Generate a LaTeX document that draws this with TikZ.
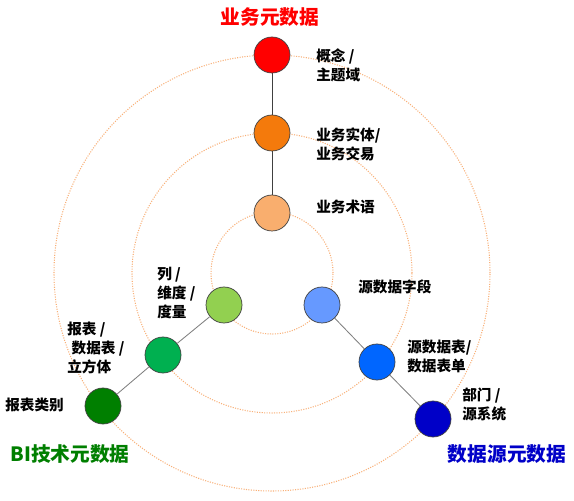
\documentclass[tikz,border=0pt]{standalone}
\usepackage{fontspec}
\setmainfont{Noto Sans CJK SC}
\definecolor{ringline}{HTML}{F9B078}
\definecolor{linkdark}{HTML}{404040}
\definecolor{linkgray}{HTML}{808080}
\definecolor{cRed}{HTML}{FF0000}
\definecolor{cOrange}{HTML}{F47A0C}
\definecolor{cPeach}{HTML}{F9AE6E}
\definecolor{cLime}{HTML}{92D050}
\definecolor{cGreen}{HTML}{00B050}
\definecolor{cForest}{HTML}{007F00}
\definecolor{cSky}{HTML}{6699FF}
\definecolor{cBlue}{HTML}{0066FF}
\definecolor{cNavy}{HTML}{0000C8}
\begin{document}
\begin{tikzpicture}[
		dot/.style={circle, draw=linkdark, line width=0.5pt, minimum size=0.9cm, inner sep=0pt},
		ring/.style={ringline, densely dotted, line width=0.75pt},
		lbl/.style={anchor=west, align=left, inner sep=0pt, font=\bfseries\fontsize{10.4pt}{13.5pt}\selectfont},
		title/.style={inner sep=0pt, font=\bfseries\fontsize{14pt}{16pt}\selectfont}]
				\useasboundingbox (0,0) rectangle (14.35,12.5);
				\fill[white] (0,0) rectangle (14.35,12.5);
				
				\coordinate (hub) at (6.8, 5.675);
				\draw[ring] (hub) circle (1.525);
				\draw[ring] (hub) circle (3.5);
				\draw[ring] (hub) circle (5.45);
				
				\node[dot, fill=cRed] (concept) at (6.8, 11.125) {};
				\node[dot, fill=cOrange] (entity) at (6.8, 9.175) {};
				\node[dot, fill=cPeach] (term) at (6.8, 7.175) {};
				
				\node[dot, fill=cLime] (column) at (5.6, 4.875) {};
				\node[dot, fill=cGreen] (report) at (4.075, 3.625) {};
				\node[dot, fill=cForest] (rtype) at (2.575, 2.35) {};
				
				\node[dot, fill=cSky] (field) at (8.05, 4.875) {};
				\node[dot, fill=cBlue] (table) at (9.425, 3.45) {};
				\node[dot, fill=cNavy] (system) at (10.825, 2.025) {};
				
				\draw[linkdark, line width=0.6pt] (concept) -- (entity) -- (term);
				\draw[linkgray, line width=0.6pt] (column) -- (report) -- (rtype);
				\draw[linkgray, line width=0.6pt] (field) -- (table) -- (system);
				
				\node[lbl] (conceptL) at (7.9, 10.875) {概念 /\\主题域};
				\node[lbl] (entityL) at (7.9, 8.9) {业务实体/\\业务交易};
				\node[lbl] (termL) at (7.9, 7.325) {业务术语};
				
				\node[lbl] (columnL) at (3.925, 5.175) {列 /\\维度 /\\度量};
				\node[lbl] (reportL) at (1.675, 3.8) {报表 /\\\hspace{0.3em}数据表 /\\立方体};
				\node[lbl] (rtypeL) at (0.125, 2.375) {报表类别};
				
				\node[lbl] (fieldL) at (8.95, 5.325) {源数据字段};
				\node[lbl] (tableL) at (10.175, 3.6) {源数据表/\\数据表单};
				\node[lbl] (systemL) at (11.55, 2.4) {部门 /\\源系统};
				
				\node[title, text=cRed] (bizT) at (6.75, 12.075) {业务元数据};
				\node[title, text=cForest] (biT) at (1.75, 1.15) {BI技术元数据};
				\node[title, text=cNavy] (srcT) at (12.675, 1.15) {数据源元数据};
\end{tikzpicture}
\end{document}
